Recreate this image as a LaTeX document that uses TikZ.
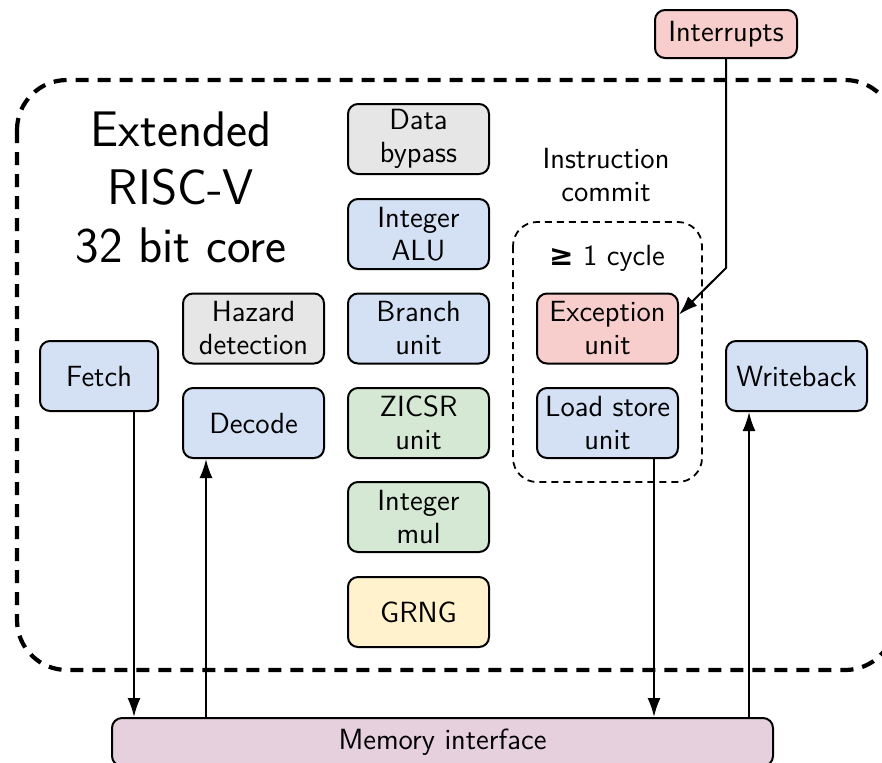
\documentclass[tikz,border=0pt]{standalone}
\usepackage{fontspec}
\newfontfamily\dejavu{DejaVu Sans}
\usetikzlibrary{arrows.meta,calc}
\definecolor{cgray}{HTML}{E6E6E6}
\definecolor{cblue}{HTML}{D4E1F5}
\definecolor{cgreen}{HTML}{D5E8D4}
\definecolor{cred}{HTML}{F8CECC}
\definecolor{cyellow}{HTML}{FFF2CC}
\definecolor{cpurple}{HTML}{E6D0DE}
\begin{document}
\begin{tikzpicture}[x=0.5pt,y=-0.5pt,
  font=\sffamily\fontsize{14.6}{16.5}\selectfont,
  blk/.style={draw, line width=1pt, rounded corners=5pt, align=center,
    minimum width=70.5pt, minimum height=35pt, inner sep=2pt},
  arr/.style={-{Latex[length=9.5pt,width=6.5pt]}, line width=1pt},
  plain/.style={line width=1pt}]
\clip (0,0) rectangle (882,762);
\useasboundingbox (0,0) rectangle (882,762);
% outer core border
\draw[line width=2.1pt, dash pattern=on 6.5pt off 4.5pt, rounded corners=25pt]
  (17,80) rectangle (895,670);
% commit region
\draw[line width=0.9pt, dash pattern=on 3.5pt off 2.5pt, rounded corners=12pt]
  (513,222) rectangle (702,482);
% title
\node[align=center, font=\sffamily\fontsize{25}{29}\selectfont] (title) at (181,188)
  {Extended\\RISC-V\\32 bit core};
\node[align=center] (commit) at (606,175) {Instruction\\commit};
\node (cycle) at (607,258) {{\dejavu\bfseries ≥} 1 cycle};
% blocks
\node[blk, fill=cred, minimum width=71pt, minimum height=24pt] (int) at (726,34) {Interrupts};
\node[blk, fill=cblue, minimum width=59pt] (fetch) at (99,376) {Fetch};
\node[blk, fill=cgray] (hazard) at (253.5,328.5) {Hazard\\detection};
\node[blk, fill=cblue] (decode) at (253.5,423) {Decode};
\node[blk, fill=cgray] (bypass) at (418.5,139) {Data\\bypass};
\node[blk, fill=cblue] (alu) at (418.5,234) {Integer\\ALU};
\node[blk, fill=cblue] (branch) at (418.5,328.5) {Branch\\unit};
\node[blk, fill=cgreen] (zicsr) at (418.5,423) {ZICSR\\unit};
\node[blk, fill=cgreen] (mul) at (418.5,517) {Integer\\mul};
\node[blk, fill=cyellow] (grng) at (418.5,612) {GRNG};
\node[blk, fill=cred] (exc) at (607.5,328.5) {Exception\\unit};
\node[blk, fill=cblue] (lsu) at (607.5,423) {Load store\\unit};
\node[blk, fill=cblue] (wb) at (796.5,376) {Writeback};
\node[blk, fill=cpurple, minimum width=330.5pt, minimum height=24pt] (mem) at (442.5,742) {Memory interface};
% connectors
\coordinate (bend) at (726,268);
\draw[arr] (int.south) -- (bend) -- (exc.11);
\draw[arr] ([xshift=17.5pt]fetch.south) -- ([xshift=17.5pt]fetch.south |- mem.north);
\draw[arr] ([xshift=-23.75pt]decode.south |- mem.north) -- ([xshift=-23.75pt]decode.south);
\draw[arr] ([xshift=23.25pt]lsu.south) -- ([xshift=23.25pt]lsu.south |- mem.north);
\draw[arr] ([xshift=-23.75pt]wb.south |- mem.north) -- ([xshift=-23.75pt]wb.south);
\end{tikzpicture}
\end{document}
